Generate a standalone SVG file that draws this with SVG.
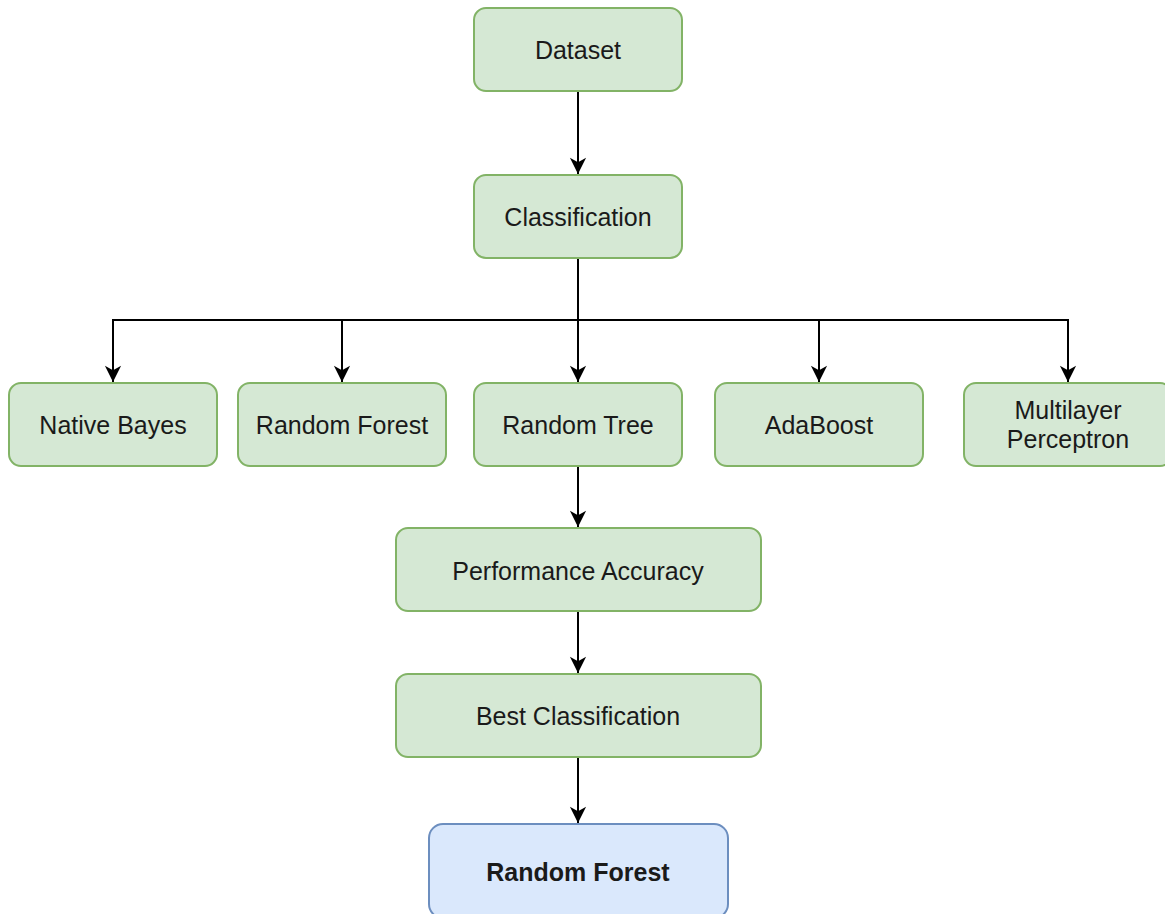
<svg xmlns="http://www.w3.org/2000/svg" width="1165" height="914" viewBox="0 0 1165 914">
  <style>
    .g { fill: #d5e8d4; stroke: #82b366; stroke-width: 2; }
    .b { fill: #dae8fc; stroke: #6c8ebf; stroke-width: 2; }
    .t { font-family: "Liberation Sans", Arial, sans-serif; font-size: 25px; fill: #1a1a1a; text-anchor: middle; }
    .bold { font-weight: bold; }
    .c { fill: none; stroke: #000; stroke-width: 2; }
  </style>
  <defs>
    <!-- classic notched arrowhead, sized in user units -->
    <marker id="arrow" viewBox="0 0 20 20" refX="19" refY="10" markerWidth="18" markerHeight="18" markerUnits="userSpaceOnUse" orient="auto">
      <path d="M1,1 L19,10 L1,19 L6,10 Z" fill="#000"/>
    </marker>
  </defs>
  <rect width="1165" height="914" fill="#fff"/>

  <g id="connectors">
    <path class="c" d="M578,92 V174" marker-end="url(#arrow)"/>
    <path class="c" d="M578,258 V382" marker-end="url(#arrow)"/>
    <path class="c" d="M113,382 V320 H1068 V382" marker-end="url(#arrow)"/>
    <path class="c" d="M342,320 V382" marker-end="url(#arrow)"/>
    <path class="c" d="M819,320 V382" marker-end="url(#arrow)"/>
    <path class="c" d="M113,320 V382" marker-end="url(#arrow)"/>
    <path class="c" d="M578,466 V527" marker-end="url(#arrow)"/>
    <path class="c" d="M578,611 V673" marker-end="url(#arrow)"/>
    <path class="c" d="M578,757 V823" marker-end="url(#arrow)"/>
  </g>

  <g id="dataset">
    <rect class="g" x="474" y="8" width="208" height="83" rx="12"/>
    <text class="t" x="578" y="59">Dataset</text>
  </g>
  <g id="classification">
    <rect class="g" x="474" y="175" width="208" height="83" rx="12"/>
    <text class="t" x="578" y="226">Classification</text>
  </g>
  <g id="native-bayes">
    <rect class="g" x="9" y="383" width="208" height="83" rx="12"/>
    <text class="t" x="113" y="434">Native Bayes</text>
  </g>
  <g id="random-forest">
    <rect class="g" x="238" y="383" width="208" height="83" rx="12"/>
    <text class="t" x="342" y="434">Random Forest</text>
  </g>
  <g id="random-tree">
    <rect class="g" x="474" y="383" width="208" height="83" rx="12"/>
    <text class="t" x="578" y="434">Random Tree</text>
  </g>
  <g id="adaboost">
    <rect class="g" x="715" y="383" width="208" height="83" rx="12"/>
    <text class="t" x="819" y="434">AdaBoost</text>
  </g>
  <g id="multilayer-perceptron">
    <rect class="g" x="964" y="383" width="208" height="83" rx="12"/>
    <text class="t" x="1068" y="419">Multilayer</text>
    <text class="t" x="1068" y="448">Perceptron</text>
  </g>
  <g id="performance-accuracy">
    <rect class="g" x="396" y="528" width="365" height="83" rx="12"/>
    <text class="t" x="578" y="580">Performance Accuracy</text>
  </g>
  <g id="best-classification">
    <rect class="g" x="396" y="674" width="365" height="83" rx="12"/>
    <text class="t" x="578" y="725">Best Classification</text>
  </g>
  <g id="result">
    <rect class="b" x="429" y="824" width="299" height="94" rx="14"/>
    <text class="t bold" x="578" y="881">Random Forest</text>
  </g>
</svg>
